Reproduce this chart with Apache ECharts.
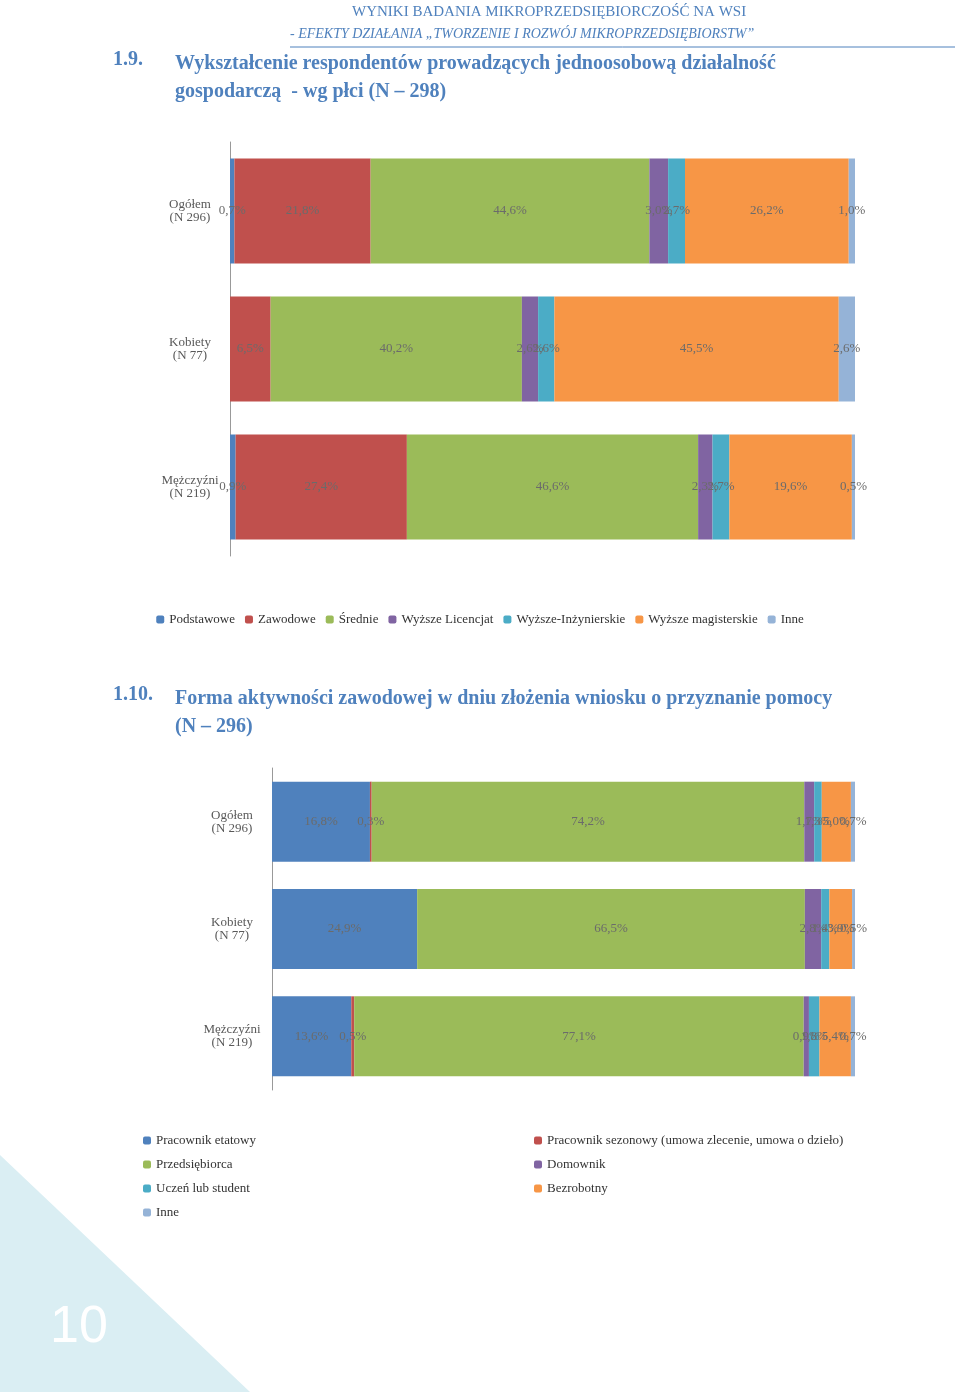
<!DOCTYPE html>
<html><head><meta charset="utf-8">
<script src="https://cdn.jsdelivr.net/npm/echarts@6/dist/echarts.min.js"></script>
<style>html,body{margin:0;padding:0;background:#fff}#c{width:960px;height:1392px}</style>
</head><body><div id="c"></div>
<script>
var groups = ['Ogółem\n(N 296)', 'Kobiety\n(N 77)', 'Mężczyźni\n(N 219)'];
var groups2 = ['Ogółem\n(N 296)', 'Kobiety\n(N 77)', 'Mężczyźni\n(N 219)'];

var eduNames = ['Podstawowe', 'Zawodowe', 'Średnie', 'Wyższe Licencjat', 'Wyższe-Inżynierskie', 'Wyższe magisterskie', 'Inne'];
var eduValues = [
  [0.7, 0, 0.9],
  [21.8, 6.5, 27.4],
  [44.6, 40.2, 46.6],
  [3.0, 2.6, 2.3],
  [2.7, 2.6, 2.7],
  [26.2, 45.5, 19.6],
  [1.0, 2.6, 0.5]
];

var jobNames = ['Pracownik etatowy', 'Pracownik sezonowy (umowa zlecenie, umowa o dzieło)', 'Przedsiębiorca', 'Domownik', 'Uczeń lub student', 'Bezrobotny', 'Inne'];
var jobValues = [
  [16.8, 24.9, 13.6],
  [0.3, 0, 0.5],
  [74.2, 66.5, 77.1],
  [1.7, 2.8, 0.9],
  [1.3, 1.4, 1.8],
  [5.0, 3.9, 5.4],
  [0.7, 0.5, 0.7]
];

var colors = ['#4F81BD', '#C0504D', '#9BBB59', '#8064A2', '#4BACC6', '#F79646', '#95B3D7'];
var serif = 'Liberation Serif';
var labelStyle = {
  show: true, position: 'inside', color: '#6b6b6b', fontFamily: serif, fontSize: 13,
  formatter: function (p) { return p.value ? p.value.toFixed(1).replace('.', ',') + '%' : ''; }
};

var series = [];
eduNames.forEach(function (n, i) {
  series.push({ name: n, type: 'bar', stack: 'a', xAxisIndex: 0, yAxisIndex: 0, barWidth: 105,
    itemStyle: { color: colors[i] }, label: labelStyle, data: eduValues[i] });
});
jobNames.forEach(function (n, i) {
  series.push({ name: n, type: 'bar', stack: 'b', xAxisIndex: 1, yAxisIndex: 1, barWidth: 80,
    itemStyle: { color: colors[i] }, label: labelStyle, data: jobValues[i] });
});

var axLabel = { color: '#595959', fontFamily: serif, fontSize: 13, align: 'center', margin: 40 };
var chart = echarts.init(document.getElementById('c'));
chart.setOption({
  animation: false,
  textStyle: { fontFamily: serif },
  grid: [
    { left: 230, width: 625, top: 142, height: 414 },
    { left: 272, width: 583, top: 768, height: 322 }
  ],
  xAxis: [
    { gridIndex: 0, type: 'value', min: 0, max: 100, show: false },
    { gridIndex: 1, type: 'value', min: 0, max: 100, show: false }
  ],
  yAxis: [
    { gridIndex: 0, type: 'category', inverse: true, data: groups,
      axisLine: { show: true, lineStyle: { color: '#999' } }, axisTick: { show: false }, axisLabel: axLabel },
    { gridIndex: 1, type: 'category', inverse: true, data: groups2,
      axisLine: { show: true, lineStyle: { color: '#999' } }, axisTick: { show: false }, axisLabel: axLabel }
  ],
  legend: [
    { data: eduNames, top: 608, left: 'center', itemWidth: 8, itemHeight: 8, itemGap: 10,
      textStyle: { color: '#333', fontFamily: serif, fontSize: 13 } },
    { data: [jobNames[0], jobNames[2], jobNames[4], jobNames[6]], orient: 'vertical', left: 138, top: 1129,
      itemWidth: 8, itemHeight: 8, itemGap: 11, textStyle: { color: '#333', fontFamily: serif, fontSize: 13 } },
    { data: [jobNames[1], jobNames[3], jobNames[5]], orient: 'vertical', left: 529, top: 1129,
      itemWidth: 8, itemHeight: 8, itemGap: 11, textStyle: { color: '#333', fontFamily: serif, fontSize: 13 } }
  ],
  graphic: [
    { type: 'polygon', shape: { points: [[0, 1155], [0, 1392], [250, 1392]] }, style: { fill: '#DAEEF3' } },
    { type: 'text', left: 50, top: 1302, style: { text: '10', fill: '#fff', font: '52px Liberation Sans' } },
    { type: 'text', left: 352, top: 5, style: { text: 'WYNIKI BADANIA MIKROPRZEDSIĘBIORCZOŚĆ NA WSI', fill: '#4F81BD', font: '15px Liberation Serif' } },
    { type: 'text', left: 290, top: 27, style: { text: '- EFEKTY DZIAŁANIA „TWORZENIE I ROZWÓJ MIKROPRZEDSIĘBIORSTW”', fill: '#4F81BD', font: 'italic 14px Liberation Serif' } },
    { type: 'line', shape: { x1: 290, y1: 47, x2: 955, y2: 47 }, style: { stroke: '#4F81BD', lineWidth: 1 } },
    { type: 'text', left: 113, top: 50, style: { text: '1.9.', fill: '#4F81BD', font: 'bold 20px Liberation Serif' } },
    { type: 'text', left: 175, top: 50, style: { text: 'Wykształcenie respondentów prowadzących jednoosobową działalność\ngospodarczą  - wg płci (N – 298)', fill: '#4F81BD', font: 'bold 20px Liberation Serif', lineHeight: 28 } },
    { type: 'text', left: 113, top: 685, style: { text: '1.10.', fill: '#4F81BD', font: 'bold 20px Liberation Serif' } },
    { type: 'text', left: 175, top: 685, style: { text: 'Forma aktywności zawodowej w dniu złożenia wniosku o przyznanie pomocy\n(N – 296)', fill: '#4F81BD', font: 'bold 20px Liberation Serif', lineHeight: 28 } }
  ],
  series: series
});
</script></body></html>
